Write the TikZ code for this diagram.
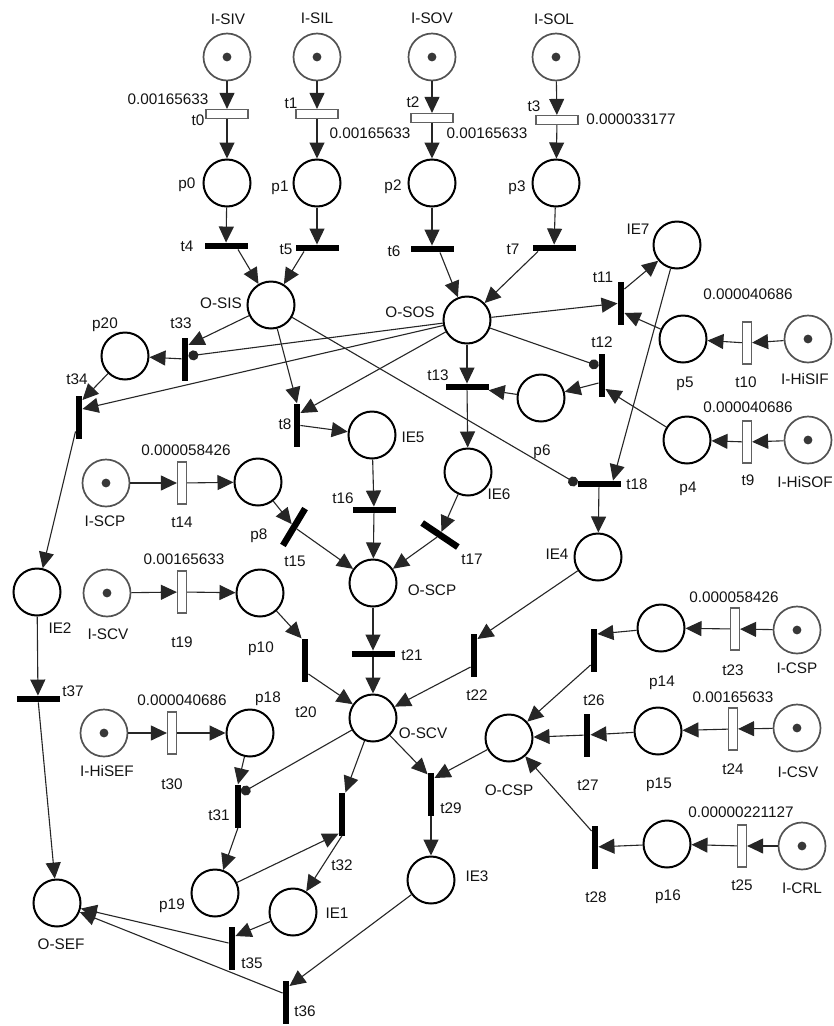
\documentclass[tikz,border=0pt]{standalone}
\usepackage{fontspec}
\setmainfont{Liberation Sans}
\usetikzlibrary{arrows.meta,calc}
\begin{document}
\begin{tikzpicture}[x=1pt,y=-1pt,
  place/.style={circle,draw=black,line width=2pt,minimum size=47pt,inner sep=0pt,fill=white},
  iplace/.style={place,draw=black!68,line width=1.7pt},
  hbar/.style={rectangle,fill=black,minimum width=43pt,minimum height=6.5pt,inner sep=0pt},
  vbar/.style={rectangle,fill=black,minimum width=6.5pt,minimum height=43pt,inner sep=0pt},
  htim/.style={rectangle,draw=black!62,line width=1.2pt,fill=white,minimum width=42pt,minimum height=9pt,inner sep=0pt},
  vtim/.style={rectangle,draw=black!62,line width=1.2pt,fill=white,minimum width=9pt,minimum height=42pt,inner sep=0pt},
  lbl/.style={inner sep=0pt,text=black!92,font=\fontsize{15.3}{17}\selectfont,text height=10.9pt,text depth=0pt},
  arc/.style={draw=black!85,line width=1.1pt,-{Triangle[length=16pt,width=15pt]}},
  inh/.style={draw=black!85,line width=1.1pt,-{Circle[length=10pt]}},
]
\useasboundingbox[fill=white] (0,0) rectangle (834,1026);

% ---------- places ----------
\node[iplace] (ISIV) at (227,57) {};
\node[iplace] (ISIL) at (317,57) {};
\node[iplace] (ISOV) at (432,57) {};
\node[iplace] (ISOL) at (556,57) {};
\node[place] (p0) at (227,183) {};
\node[place] (p1) at (317,183) {};
\node[place] (p2) at (432,183) {};
\node[place] (p3) at (556,183) {};
\node[place] (OSIS) at (271,305) {};
\node[place] (OSOS) at (467,320) {};
\node[place] (IE7) at (677,245) {};
\node[place] (p5) at (683,339) {};
\node[iplace] (IHiSIF) at (808,339) {};
\node[place] (p4) at (687,440) {};
\node[iplace] (IHiSOF) at (808,440) {};
\node[place] (p6) at (541,398) {};
\node[place] (IE6) at (468,472) {};
\node[place] (IE4) at (598,557) {};
\node[place] (p20) at (125,356) {};
\node[place] (IE5) at (372,435) {};
\node[iplace] (ISCP) at (106,483) {};
\node[place] (p8) at (258,482) {};
\node[place] (OSCP) at (373,583) {};
\node[iplace] (ISCV) at (107,593) {};
\node[place] (p10) at (260,593) {};
\node[place] (IE2) at (37,592) {};
\node[place] (OSCV) at (373,718) {};
\node[place] (p14) at (661,628) {};
\node[iplace] (ICSP) at (797,630) {};
\node[place] (OCSP) at (509,738) {};
\node[place] (p15) at (658,731) {};
\node[iplace] (ICSV) at (797,728) {};
\node[place] (p16) at (667,844) {};
\node[iplace] (ICRL) at (802,846) {};
\node[place] (IE3) at (431,880) {};
\node[iplace] (IHiSEF) at (104,733) {};
\node[place] (p18) at (250,733) {};
\node[place] (p19) at (215,893) {};
\node[place] (IE1) at (293,912) {};
\node[place] (OSEF) at (57,903) {};
\foreach \n in {ISIV,ISIL,ISOV,ISOL,IHiSIF,IHiSOF,ISCP,ISCV,ICSP,ICSV,ICRL,IHiSEF}
  \fill[black!78] (\n) circle[radius=4.4pt];

% ---------- transitions ----------
\node[htim] (t0) at (227,114) {};
\node[htim] (t1) at (317,114) {};
\node[htim] (t2) at (432,118) {};
\node[htim] (t3) at (557,120) {};
\node[hbar] (t4) at (226,246) {};
\node[hbar] (t5) at (317,248) {};
\node[hbar] (t6) at (432,249) {};
\node[hbar] (t7) at (554,248) {};
\node[vbar] (t11) at (621,303) {};
\node[vtim] (t10) at (747,343) {};
\node[vtim] (t9) at (747,442) {};
\node[vbar] (t12) at (602,375) {};
\node[hbar] (t13) at (467,387) {};
\node[hbar] (t18) at (599,484) {};
\node[vbar] (t33) at (185,359) {};
\node[vbar] (t34) at (79,417) {};
\node[vbar] (t8) at (297,425) {};
\node[vtim] (t14) at (182,483) {};
\node[hbar,rotate=59] (t15) at (294,527) {};
\node[hbar] (t16) at (374,510) {};
\node[hbar,rotate=-34] (t17) at (440,535) {};
\node[vtim] (t19) at (182,592) {};
\node[vbar] (t20) at (305,660) {};
\node[hbar] (t21) at (373,654) {};
\node[vbar] (t22) at (474,655) {};
\node[vtim] (t23) at (735,629) {};
\node[vbar] (t26) at (594,650) {};
\node[vtim] (t24) at (733,729) {};
\node[vbar] (t27) at (587,735) {};
\node[vtim] (t25) at (742,846) {};
\node[vbar] (t28) at (595,847) {};
\node[vbar] (t29) at (431,794) {};
\node[hbar] (t37) at (38,699) {};
\node[vtim] (t30) at (172,733) {};
\node[vbar] (t31) at (238,806) {};
\node[vbar] (t32) at (342,814) {};
\node[vbar] (t35) at (232,948) {};
\node[vbar] (t36) at (286,1002) {};

% ---------- arcs ----------
\draw[arc] (ISIV) -- (t0);
\draw[arc] (t0) -- (p0);
\draw[arc] (p0) -- (t4);
\draw[arc] ($(t4.south)+(12,0)$) -- (OSIS);
\draw[arc] (ISIL) -- (t1);
\draw[arc] (t1) -- (p1);
\draw[arc] (p1) -- (t5);
\draw[arc] ($(t5.south)+(-13,0)$) -- (OSIS);
\draw[arc] (ISOV) -- (t2);
\draw[arc] (t2) -- (p2);
\draw[arc] (p2) -- (t6);
\draw[arc] ($(t6.south)+(8,0)$) -- (OSOS);
\draw[arc] (ISOL) -- (t3);
\draw[arc] (t3) -- (p3);
\draw[arc] (p3) -- (t7);
\draw[arc] ($(t7.south)+(-16,0)$) -- (OSOS);

\draw[arc] (OSOS) -- (t11);
\draw[arc] ($(t11.east)+(0,-14)$) -- (IE7);
\draw[arc] (p5) -- ($(t11.east)+(0,10)$);
\draw[arc] (IE7) -- ($(t18.north)+(14,0)$);
\draw[inh] (OSOS) -- ($(t12.west)+(0,-9)$);
\draw[arc] (p4) -- ($(t12.east)+(0,14)$);
\draw[arc] ($(t12.west)+(0,8)$) -- (p6);
\draw[arc] (p6) -- (t13);
\draw[arc] (OSOS) -- (t13);
\draw[arc] (t13) -- (IE6);
\draw[inh] (OSIS) -- (t18.west);
\draw[arc] (t18) -- (IE4);
\draw[arc] (IHiSIF) -- (t10);
\draw[arc] (t10) -- (p5);
\draw[arc] (IHiSOF) -- (t9);
\draw[arc] (t9) -- (p4);

\draw[arc] (OSIS) -- ($(t33.east)+(0,-14)$);
\draw[inh] (OSOS) -- ($(t33.east)+(0,-3)$);
\draw[arc] (t33) -- (p20);
\draw[arc] (p20) -- ($(t34.east)+(0,-17)$);
\draw[arc] (OSOS) -- ($(t34.east)+(0,-8)$);
\draw[arc] (t34) -- (IE2);
\draw[arc] (IE2) -- (t37);
\draw[arc] (t37) -- (OSEF);
\draw[arc] (OSIS) -- (t8.north);
\draw[arc] (OSOS) -- ($(t8.east)+(0,-12)$);
\draw[arc] (t8) -- (IE5);
\draw[arc] (IE5) -- (t16);
\draw[arc] (t16) -- (OSCP);
\draw[arc] (IE6) -- (t17);
\draw[arc] (t17) -- (OSCP);
\draw[arc] (ISCP) -- (t14);
\draw[arc] (t14) -- (p8);
\draw[arc] (p8) -- (t15);
\draw[arc] (t15) -- (OSCP);
\draw[arc] (OSCP) -- (t21);
\draw[arc] (t21) -- (OSCV);
\draw[arc] (ISCV) -- (t19);
\draw[arc] (t19) -- (p10);
\draw[arc] (p10) -- (t20.north west);
\draw[arc] ($(t20.east)+(0,14)$) -- (OSCV);
\draw[arc] (IE4) -- ($(t22.east)+(0,-16)$);
\draw[arc] ($(t22.west)+(0,12)$) -- (OSCV);
\draw[arc] (ICSP) -- (t23);
\draw[arc] (t23) -- (p14);
\draw[arc] (p14) -- ($(t26.east)+(0,-16)$);
\draw[arc] ($(t26.west)+(0,15)$) -- (OCSP);
\draw[arc] (ICSV) -- (t24);
\draw[arc] (t24) -- (p15);
\draw[arc] (p15) -- (t27);
\draw[arc] (t27) -- (OCSP);
\draw[arc] (ICRL) -- (t25);
\draw[arc] (t25) -- (p16);
\draw[arc] (p16) -- (t28);
\draw[arc] ($(t28.west)+(0,-16)$) -- (OCSP);
\draw[arc] (OSCV) -- ($(t29.north west)+(0,2)$);
\draw[arc] (OCSP) -- ($(t29.east)+(0,-16)$);
\draw[arc] (t29) -- (IE3);
\draw[arc] (IE3) -- ($(t36.east)+(0,-16)$);
\draw[arc] ($(t36.west)+(0,-9)$) -- (OSEF);
\draw[arc] (IE1) -- ($(t35.east)+(0,-12)$);
\draw[arc] ($(t35.west)+(0,-5)$) -- (OSEF);
\draw[arc] (IHiSEF) -- (t30);
\draw[arc] (t30) -- (p18);
\draw[arc] (p18) -- (t31.north);
\draw[inh] (OSCV) -- ($(t31.east)+(0,-13)$);
\draw[arc] (t31.south) -- (p19);
\draw[arc] (OSCV) -- (t32.north east);
\draw[arc] (p19) -- ($(t32.south west)+(0,-2)$);
\draw[arc] (t32.south) -- (IE1);

% ---------- labels ----------
\node[lbl] (LISIV) at (228,19) {I-SIV};
\node[lbl] (LISIL) at (317,18) {I-SIL};
\node[lbl] (LISOV) at (432,18) {I-SOV};
\node[lbl] (LISOL) at (554,19) {I-SOL};
\node[lbl] (Lr0) at (168,99) {0.00165633};
\node[lbl] (Lt0) at (198,120) {t0};
\node[lbl] (Lt1) at (291,103) {t1};
\node[lbl] (Lr1) at (370,133) {0.00165633};
\node[lbl] (Lt2) at (413,102) {t2};
\node[lbl] (Lr2) at (487,133) {0.00165633};
\node[lbl] (Lt3) at (534,106) {t3};
\node[lbl] (Lr3) at (631,119) {0.000033177};
\node[lbl] (Lp0) at (187,183) {p0};
\node[lbl] (Lp1) at (280,186) {p1};
\node[lbl] (Lp2) at (393,185) {p2};
\node[lbl] (Lp3) at (517,186) {p3};
\node[lbl] (Lt4) at (187,246) {t4};
\node[lbl] (Lt5) at (286,249) {t5};
\node[lbl] (Lt6) at (394,251) {t6};
\node[lbl] (Lt7) at (513,249) {t7};
\node[lbl] (LOSIS) at (221,303) {O-SIS};
\node[lbl] (LOSOS) at (410,312) {O-SOS};
\node[lbl] (LIE7) at (638,229) {IE7};
\node[lbl] (Lt11) at (603,277) {t11};
\node[lbl] (Lr10) at (748,294) {0.000040686};
\node[lbl] (Lp20) at (105,323) {p20};
\node[lbl] (Lt33) at (181,323) {t33};
\node[lbl] (Lt34) at (77,379) {t34};
\node[lbl] (Lt12) at (602,342) {t12};
\node[lbl] (Lt13) at (438,375) {t13};
\node[lbl] (Lp5) at (685,382) {p5};
\node[lbl] (Lt10) at (746,382) {t10};
\node[lbl] (LIHiSIF) at (805,379) {I-HiSIF};
\node[lbl] (Lr9) at (748,407) {0.000040686};
\node[lbl] (Lp4) at (688,487) {p4};
\node[lbl] (Lt9) at (748,480) {t9};
\node[lbl] (LIHiSOF) at (805,482) {I-HiSOF};
\node[lbl] (Lt18) at (637,484) {t18};
\node[lbl] (Lp6) at (542,450) {p6};
\node[lbl] (LIE6) at (499,494) {IE6};
\node[lbl] (LIE4) at (557,554) {IE4};
\node[lbl] (Lt17) at (472,559) {t17};
\node[lbl] (LOSCP) at (432,590) {O-SCP};
\node[lbl] (LIE5) at (413,437) {IE5};
\node[lbl] (Lt8) at (285,424) {t8};
\node[lbl] (Lt16) at (343,498) {t16};
\node[lbl] (Lt15) at (295,561) {t15};
\node[lbl] (Lp8) at (259,534) {p8};
\node[lbl] (LISCP) at (105,521) {I-SCP};
\node[lbl] (Lt14) at (182,522) {t14};
\node[lbl] (Lr14) at (186,450) {0.000058426};
\node[lbl] (LISCV) at (108,634) {I-SCV};
\node[lbl] (Lt19) at (182,642) {t19};
\node[lbl] (Lr19) at (184,559) {0.00165633};
\node[lbl] (Lp10) at (261,647) {p10};
\node[lbl] (LIE2) at (60,628) {IE2};
\node[lbl] (Lt21) at (412,655) {t21};
\node[lbl] (Lt20) at (306,712) {t20};
\node[lbl] (Lt22) at (477,695) {t22};
\node[lbl] (LOSCV) at (423,733) {O-SCV};
\node[lbl] (Lt29) at (451,808) {t29};
\node[lbl] (Lp18) at (268,697) {p18};
\node[lbl] (Lt37) at (73,691) {t37};
\node[lbl] (Lr30) at (182,700) {0.000040686};
\node[lbl] (LIHiSEF) at (107,771) {I-HiSEF};
\node[lbl] (Lt30) at (172,784) {t30};
\node[lbl] (Lt31) at (219,815) {t31};
\node[lbl] (Lt32) at (342,865) {t32};
\node[lbl] (Lp19) at (172,904) {p19};
\node[lbl] (LIE1) at (337,913) {IE1};
\node[lbl] (LOSEF) at (61,944) {O-SEF};
\node[lbl] (Lt35) at (252,963) {t35};
\node[lbl] (Lt36) at (305,1011) {t36};
\node[lbl] (Lt26) at (594,700) {t26};
\node[lbl] (Lp14) at (662,681) {p14};
\node[lbl] (Lt23) at (733,670) {t23};
\node[lbl] (LICSP) at (797,668) {I-CSP};
\node[lbl] (Lr23) at (734,597) {0.000058426};
\node[lbl] (Lr24) at (733,697) {0.00165633};
\node[lbl] (LOCSP) at (509,790) {O-CSP};
\node[lbl] (Lt27) at (588,785) {t27};
\node[lbl] (Lp15) at (659,783) {p15};
\node[lbl] (Lt24) at (733,769) {t24};
\node[lbl] (LICSV) at (798,772) {I-CSV};
\node[lbl] (Lr25) at (741,812) {0.00000221127};
\node[lbl] (Lt28) at (596,897) {t28};
\node[lbl] (Lp16) at (668,895) {p16};
\node[lbl] (Lt25) at (742,885) {t25};
\node[lbl] (LICRL) at (802,888) {I-CRL};
\node[lbl] (LIE3) at (477,876) {IE3};
\end{tikzpicture}
\end{document}
